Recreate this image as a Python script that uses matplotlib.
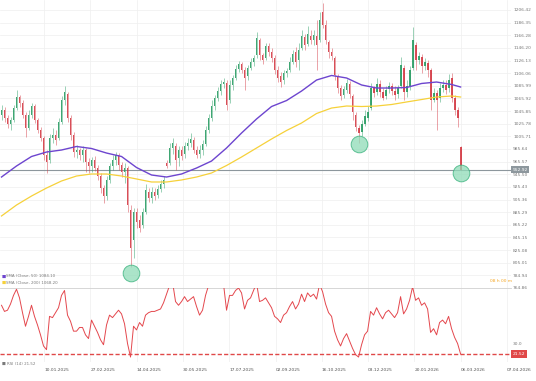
import numpy as np
import matplotlib.pyplot as plt
from matplotlib import transforms

# ===================== DỮ LIỆU NẾN (giá) =====================
open_ = [
    1040, 1048, 1035, 1025, 1032, 1051, 1068, 1059, 1040, 1019,
    1040, 1054, 1032, 1016, 1003, 976, 968, 1003, 1008, 1003,
    1029, 1063, 1073, 1035, 1008, 981, 984, 976, 984, 965,
    959, 968, 955, 943, 924, 911, 936, 959, 968, 976,
    960, 949, 955, 889, 841, 886, 873, 865, 886, 917,
    908, 917, 912, 922, 930, 963, 963, 987, 990, 971,
    984, 978, 990, 995, 1000, 984, 978, 984, 994, 1016,
    1035, 1054, 1067, 1078, 1089, 1090, 1063, 1087, 1098, 1113,
    1121, 1111, 1102, 1114, 1124, 1135, 1159, 1135, 1130, 1149,
    1140, 1130, 1111, 1102, 1095, 1106, 1111, 1124, 1140, 1127,
    1146, 1163, 1152, 1165, 1159, 1165, 1159, 1203, 1183, 1156,
    1140, 1130, 1102, 1083, 1071, 1079, 1089, 1070, 1040, 1019,
    1012, 1025, 1035, 1051, 1083, 1076, 1089, 1076, 1070, 1081,
    1086, 1078, 1073, 1086, 1114, 1076, 1086, 1114, 1151, 1127,
    1132, 1118, 1122, 1111, 1063, 1075, 1066, 1083, 1087, 1082,
    1098, 1067, 1048, 989,
]
high = [
    1056, 1052, 1040, 1036, 1056, 1079, 1071, 1063, 1044, 1048,
    1059, 1057, 1035, 1021, 1006, 984, 1009, 1019, 1016, 1035,
    1070, 1086, 1076, 1040, 1013, 992, 987, 990, 987, 971,
    973, 975, 960, 947, 928, 943, 963, 976, 981, 979,
    965, 963, 959, 897, 892, 892, 881, 892, 930, 924,
    925, 924, 928, 936, 943, 968, 995, 1003, 995, 990,
    990, 997, 1003, 1011, 1005, 990, 992, 1000, 1022, 1041,
    1063, 1071, 1084, 1095, 1098, 1095, 1095, 1103, 1119, 1125,
    1124, 1116, 1119, 1130, 1135, 1171, 1162, 1138, 1154, 1154,
    1146, 1135, 1118, 1108, 1111, 1114, 1132, 1143, 1148, 1154,
    1175, 1168, 1181, 1175, 1175, 1191, 1203, 1218, 1191, 1159,
    1146, 1133, 1104, 1087, 1086, 1097, 1094, 1073, 1044, 1024,
    1032, 1048, 1054, 1090, 1086, 1098, 1095, 1083, 1086, 1092,
    1090, 1086, 1087, 1132, 1119, 1095, 1118, 1179, 1156, 1140,
    1136, 1130, 1127, 1114, 1083, 1079, 1090, 1095, 1095, 1105,
    1106, 1071, 1052, 990,
]
low = [
    1032, 1029, 1019, 1016, 1029, 1048, 1052, 1035, 1005, 1016,
    1035, 1027, 1011, 998, 968, 947, 963, 995, 992, 1000,
    1025, 1056, 1029, 1000, 973, 971, 968, 965, 949, 947,
    949, 951, 936, 916, 900, 905, 932, 952, 960, 952,
    941, 932, 886, 798, 812, 860, 854, 860, 882, 901,
    900, 905, 908, 917, 924, 955, 960, 978, 952, 959,
    968, 971, 984, 989, 979, 971, 971, 976, 990, 1011,
    1030, 1048, 1062, 1071, 1083, 1048, 1059, 1079, 1095, 1108,
    1106, 1079, 1095, 1111, 1118, 1130, 1127, 1121, 1127, 1133,
    1124, 1105, 1092, 1084, 1089, 1100, 1108, 1121, 1116, 1111,
    1143, 1143, 1149, 1152, 1151, 1111, 1156, 1178, 1152, 1130,
    1127, 1095, 1075, 1063, 1067, 1075, 1067, 1032, 1014, 995,
    1006, 1022, 1030, 1048, 1068, 1071, 1068, 1063, 1065, 1075,
    1071, 1063, 1067, 1083, 1063, 1068, 1079, 1111, 1111, 1121,
    1106, 1111, 1100, 1048, 1060, 1016, 1060, 1076, 1073, 1076,
    1060, 1040, 1021, 952,
]
close = [
    1048, 1035, 1025, 1032, 1051, 1068, 1059, 1040, 1019, 1040,
    1054, 1032, 1016, 1003, 976, 965, 1003, 1008, 1000, 1029,
    1063, 1076, 1035, 1008, 981, 984, 976, 984, 965, 959,
    968, 955, 943, 924, 911, 936, 959, 968, 976, 960,
    949, 955, 897, 828, 886, 870, 860, 886, 921, 908,
    917, 911, 922, 930, 936, 959, 987, 995, 968, 984,
    975, 990, 995, 1002, 984, 976, 984, 994, 1016, 1035,
    1054, 1067, 1078, 1089, 1092, 1056, 1087, 1098, 1113, 1121,
    1111, 1098, 1114, 1124, 1130, 1162, 1135, 1127, 1149, 1140,
    1130, 1111, 1098, 1092, 1106, 1110, 1124, 1137, 1124, 1143,
    1165, 1151, 1168, 1159, 1167, 1151, 1191, 1183, 1159, 1140,
    1133, 1103, 1083, 1070, 1081, 1090, 1073, 1044, 1021, 1011,
    1025, 1038, 1044, 1083, 1075, 1089, 1076, 1067, 1079, 1086,
    1078, 1071, 1083, 1119, 1076, 1086, 1111, 1159, 1127, 1133,
    1118, 1124, 1111, 1063, 1075, 1063, 1083, 1087, 1079, 1095,
    1067, 1048, 1035, 952.92,
]

# ===================== ĐƯỜNG TRUNG BÌNH (SMA) =====================
ma_idx = [0, 5, 10, 15, 20, 25, 30, 35, 40, 45, 50, 55, 60, 65, 70, 75,
          80, 85, 90, 95, 100, 105, 110, 115, 120, 125, 130, 135, 140,
          145, 150, 153]
sma50 = [941.1, 958.6, 973.7, 980.8, 984.0, 989.6, 986.4, 979.2, 973.7,
         956.2, 944.3, 941.1, 945.9, 955.4, 966.5, 987.2, 1011.0, 1033.3,
         1053.1, 1062.6, 1077.7, 1095.2, 1102.4, 1098.4, 1087.3, 1082.5,
         1082.5, 1083.3, 1089.7, 1092.0, 1088.1, 1084.1]
sma200 = [879.2, 896.6, 910.9, 923.6, 934.8, 942.7, 945.9, 945.9, 942.7,
          938.0, 933.2, 933.2, 936.4, 941.1, 947.5, 959.4, 972.9, 987.2,
          1001.5, 1015.0, 1026.9, 1042.0, 1050.7, 1053.9, 1053.1, 1053.9,
          1056.3, 1060.3, 1064.2, 1068.2, 1069.8, 1068.2]

# ===================== RSI =====================
rsi = [
    61, 56, 57, 62, 69, 74, 67, 55, 44, 52,
    61, 52, 45, 37, 28, 25, 52, 51, 55, 59,
    69, 73, 53, 48, 40, 40, 43, 43, 37, 34,
    49, 44, 39, 33, 29, 45, 53, 51, 54, 57,
    54, 46, 30, 19, 44, 41, 47, 44, 53, 55,
    56, 56, 57, 58, 63, 70, 77, 80, 64, 61,
    64, 68, 64, 66, 68, 60, 53, 57, 69, 77,
    82, 84, 85, 83, 78, 57, 69, 69, 73, 75,
    71, 58, 65, 67, 73, 79, 64, 65, 67, 63,
    59, 52, 50, 47, 53, 55, 60, 64, 58, 62,
    70, 64, 71, 68, 70, 66, 78, 72, 62, 55,
    52, 40, 33, 28, 34, 38, 32, 26, 21, 19,
    29, 37, 40, 56, 53, 59, 54, 50, 55, 57,
    54, 51, 55, 68, 54, 58, 65, 76, 65, 67,
    61, 63, 58, 39, 42, 37, 47, 49, 46, 52,
    42, 35, 30, 21.52,
]

# ===================== NHÃN TRỤC =====================
price_ticks = [1206.42, 1186.35, 1166.28, 1146.20, 1126.13, 1106.06, 1085.99,
               1065.92, 1045.85, 1025.78, 1005.71, 985.64, 965.57, 945.50,
               925.43, 905.36, 885.29, 865.22, 845.15, 825.08, 805.01,
               784.94, 764.86]
date_labels = ["01.11.2024", "10.01.2025", "27.02.2025", "14.04.2025",
               "30.05.2025", "17.07.2025", "02.09.2025", "16.10.2025",
               "03.12.2025", "20.01.2026", "06.03.2026", "07.04.2026"]

# điểm đánh dấu (chỉ số nến) và độ lệch (px)
mark_idx = [43, 119, 153]
mark_off = [-6, -1, -3]

UP = "#2a9d64"
DOWN = "#d43c46"
GRID = "#efefef"
TXT = "#7a7a7a"
FS = 3.2

W, H = 536, 381
fig = plt.figure(figsize=(W / 100, H / 100), dpi=100)
ax = fig.add_axes([0, 1 - 288 / H, 511 / W, 288 / H])
ax2 = fig.add_axes([0, 1 - 362 / H, 511 / W, 74 / H], sharex=ax)

idx = np.arange(len(close))
o = np.array(open_)
c = np.array(close)
up = c >= o
colors = np.where(up, UP, DOWN)

# ===================== NẾN =====================
ax.vlines(idx, low, high, colors=colors, linewidth=0.6, alpha=0.55, zorder=3)
body = np.maximum(np.abs(c - o), 1.0)
ax.bar(idx, body, bottom=np.minimum(o, c), width=0.62, color=colors,
       alpha=0.9, zorder=4, linewidth=0)

ax.plot(ma_idx, sma50, color="#6d45cf", lw=1.0, zorder=5)
ax.plot(ma_idx, sma200, color="#f6d13a", lw=0.9, zorder=5)

# giá hiện tại
ax.axhline(close[-1], color="#8d979d", lw=0.8, zorder=2)
ytr = transforms.blended_transform_factory(ax.transAxes, ax.transData)
ax.text(1.003, close[-1], f"{close[-1]:.2f}", transform=ytr, fontsize=FS,
        color="white", va="center", ha="left", zorder=10,
        bbox=dict(boxstyle="square,pad=0.35", fc="#8d979d", ec="none"))

# vòng tròn đánh dấu
for i, dy in zip(mark_idx, mark_off):
    tr = transforms.offset_copy(ax.transData, fig=fig, x=0, y=dy * 0.72,
                                units="points")
    ax.plot(i, low[i], "o", ms=12, mfc="#8fdcb8", mec="#35b07a", mew=0.7,
            alpha=0.75, transform=tr, zorder=6, clip_on=False)

# chú thích
for k, (lab, col, val) in enumerate([("SMA (Close, 50)", "#6d45cf", sma50[-1]),
                                      ("SMA (Close, 200)", "#f6d13a", sma200[-1])]):
    yy = 0.040 - k * 0.021
    ax.text(0.003, yy, "■", transform=ax.transAxes, fontsize=FS, color=col,
            va="center")
    ax.text(0.012, yy, f"{lab} {val:.2f}", transform=ax.transAxes,
            fontsize=FS * 0.9, color=TXT, va="center")

ax.text(1.002, 0.024, "08 h 00 m", transform=ax.transAxes, fontsize=FS,
        color="#f5a623", ha="right", va="center")

ax.set_ylim(764.8, 1222.3)
ax.yaxis.tick_right()
ax.set_yticks(price_ticks)
ax.set_yticklabels([f"{p:.2f}" for p in price_ticks])
ax.tick_params(axis="y", length=0, pad=1.5, labelsize=FS, labelcolor=TXT)
ax.tick_params(axis="x", length=0, labelbottom=False)
ax.grid(True, color=GRID, lw=0.5)
for s in ax.spines.values():
    s.set_visible(False)

# ===================== PANEL RSI =====================
ax2.plot(idx, rsi, color="#e4474d", lw=0.7, zorder=3)
ax2.axhline(rsi[-1], color="#e04848", lw=1.0, ls=(0, (3, 1.6)), zorder=2)
ytr2 = transforms.blended_transform_factory(ax2.transAxes, ax2.transData)
ax2.text(1.003, rsi[-1], f"{rsi[-1]:.2f}", transform=ytr2, fontsize=FS,
         color="white", va="center", ha="left", zorder=10,
         bbox=dict(boxstyle="square,pad=0.35", fc="#e04848", ec="none"))
ax2.text(0.003, -0.03, f"■ RSI (14) {rsi[-1]:.2f}", transform=ax2.transAxes,
         fontsize=FS * 0.9, color=TXT, va="center")

ax2.set_ylim(15, 75)
ax2.yaxis.tick_right()
ax2.set_yticks([30])
ax2.set_yticklabels(["30.0"])
ax2.tick_params(axis="y", length=0, pad=1.5, labelsize=FS, labelcolor=TXT)

tick_pos = 14.17 + 15.43 * np.arange(-1, len(date_labels) - 1)
ax2.set_xticks(tick_pos)
ax2.set_xticklabels(date_labels, ha="left")
ax2.tick_params(axis="x", length=0, pad=4.5, labelsize=FS, labelcolor="#555555")
ax2.grid(True, axis="x", color=GRID, lw=0.5)
for name, s in ax2.spines.items():
    s.set_visible(name == "top")
ax2.spines["top"].set_color("#d0d0d0")
ax2.spines["top"].set_linewidth(0.6)

ax.set_xlim(-0.5, 169.8)

fig.savefig("out.png", dpi=100)
